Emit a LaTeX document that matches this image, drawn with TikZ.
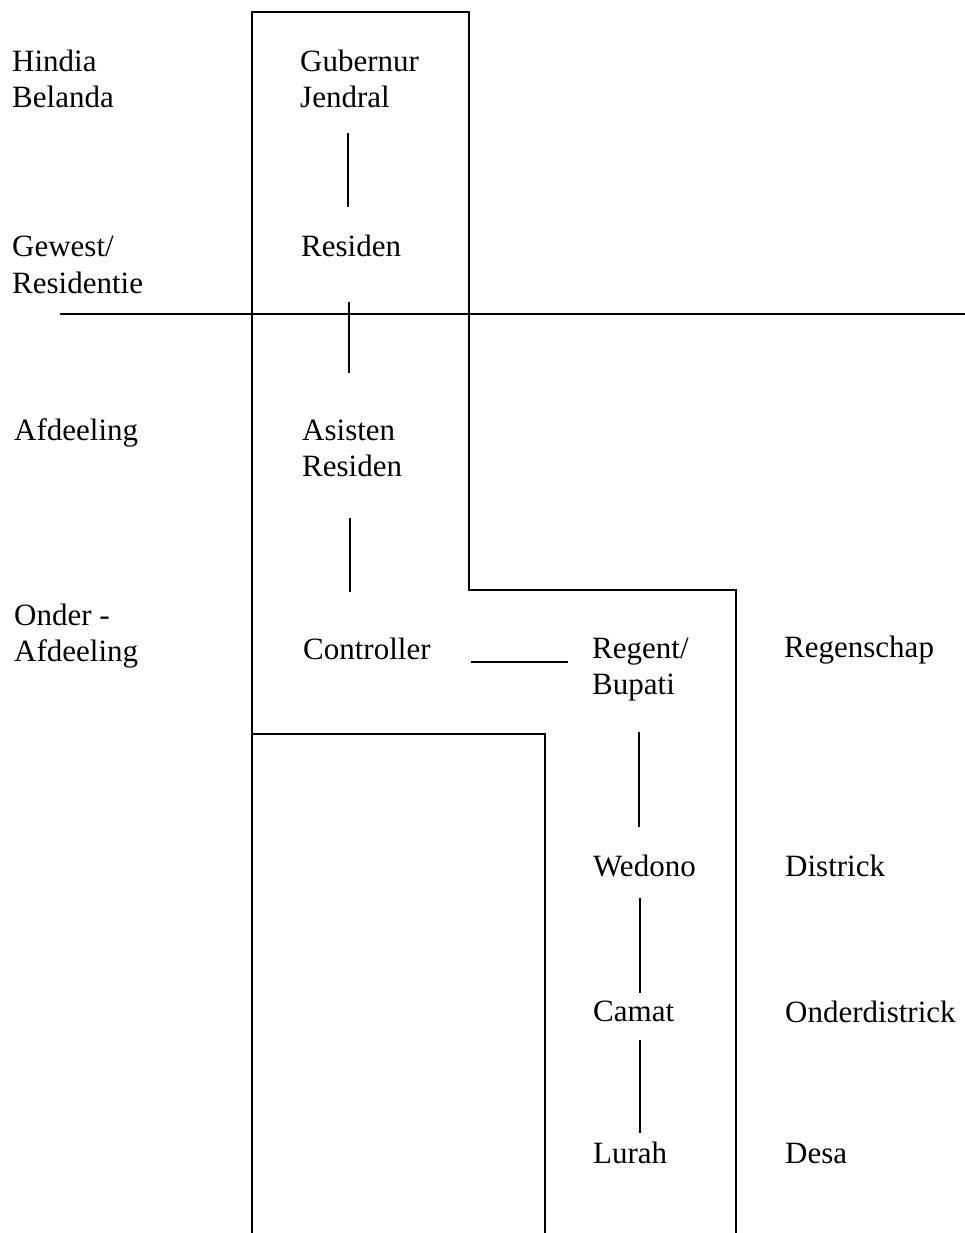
\documentclass[tikz,border=0pt]{standalone}
\usepackage{fontspec}
\setmainfont{Liberation Serif}
\begin{document}
\begin{tikzpicture}[x=1pt,y=-1pt,
  lbl/.style={anchor=base west,inner sep=0pt,align=left,font=\fontsize{31}{36}\selectfont},
  frame/.style={line width=2pt,line join=miter},
  conn/.style={line width=2pt}]
\useasboundingbox (0,0) rectangle (965,1233);
% outline
\draw[frame] (252,1233) -- (252,12) -- (469,12) -- (469,590) -- (736,590) -- (736,1233);
\draw[frame] (252,12) -- (252,734) -- (545,734) -- (545,1233);
\draw[frame] (60,314) -- (965,314);
% left level labels (base anchor = last line)
\node[lbl] (hb) at (12,108) {Hindia\\Belanda};
\node[lbl] (gw) at (12,293) {Gewest/\\Residentie};
\node[lbl] (af) at (14,440) {Afdeeling};
\node[lbl] (oa) at (14,661) {Onder -\\Afdeeling};
% officials
\node[lbl] (gub) at (300,108) {Gubernur\\Jendral};
\node[lbl] (res) at (301,256) {Residen};
\node[lbl] (asr) at (302,476) {Asisten\\Residen};
\node[lbl] (con) at (303,659) {Controller};
\node[lbl] (reg) at (592,694) {Regent/\\Bupati};
\node[lbl] (wed) at (593,876) {Wedono};
\node[lbl] (cam) at (593,1021) {Camat};
\node[lbl] (lur) at (593,1163) {Lurah};
% right level labels
\node[lbl] (rs) at (784,657) {Regenschap};
\node[lbl] (di) at (785,876) {Districk};
\node[lbl] (od) at (785,1022) {Onderdistrick};
\node[lbl] (de) at (785,1163) {Desa};
% connector ends
\coordinate (c1a) at (348,133); \coordinate (c1b) at (348,207);
\coordinate (c2a) at (349,302); \coordinate (c2b) at (349,373);
\coordinate (c3a) at (350,518); \coordinate (c3b) at (350,592);
\coordinate (c4a) at (471,662); \coordinate (c4b) at (568,662);
\coordinate (c5a) at (639,732); \coordinate (c5b) at (639,827);
\coordinate (c6a) at (640,898); \coordinate (c6b) at (640,993);
\coordinate (c7a) at (640,1040); \coordinate (c7b) at (640,1133);
\draw[conn] (c1a) -- (c1b);
\draw[conn] (c2a) -- (c2b);
\draw[conn] (c3a) -- (c3b);
\draw[conn] (c4a) -- (c4b);
\draw[conn] (c5a) -- (c5b);
\draw[conn] (c6a) -- (c6b);
\draw[conn] (c7a) -- (c7b);
\end{tikzpicture}
\end{document}
